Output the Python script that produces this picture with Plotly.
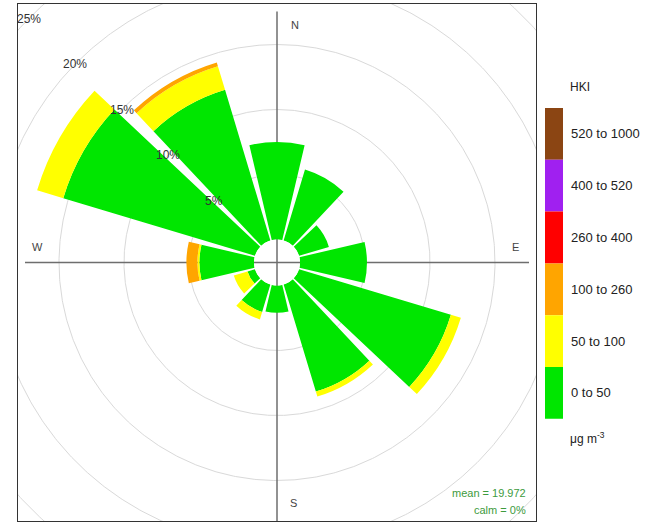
import numpy as np
import plotly.graph_objects as go

# ---------------- data ----------------
directions = [0, 30, 60, 90, 120, 150, 180, 210, 240, 270, 300, 330]
bin_labels = ["0 to 50", "50 to 100", "100 to 260", "260 to 400", "400 to 520", "520 to 1000"]
bin_colors = ["#00e600", "#ffff00", "#ffa500", "#ff0000", "#a020f0", "#8b4513"]

freq_0_50 = [7.5, 5.7, 2.4, 5.15, 12.2, 8.6, 2.1, 2.2, 0.6, 4.2, 15.4, 12.1]
freq_50_100 = [0, 0, 0, 0, 0.8, 0.4, 0, 0.6, 1.1, 0.15, 2.1, 1.9]
freq_100_260 = [0, 0, 0, 0, 0, 0, 0, 0, 0, 0.85, 0, 0.3]
freq_260_400 = [0, 0, 0, 0, 0, 0, 0, 0, 0, 0, 0, 0]
freq_400_520 = [0, 0, 0, 0, 0, 0, 0, 0, 0, 0, 0, 0]
freq_520_1000 = [0, 0, 0, 0, 0, 0, 0, 0, 0, 0, 0, 0]
series = [freq_0_50, freq_50_100, freq_100_260, freq_260_400, freq_400_520, freq_520_1000]

grid_levels = [5, 10, 15, 20, 25]
compass_labels = ["N", "E", "S", "W"]
pollutant = "HKI"
unit_label = "μg m<sup>-3</sup>"
mean_value = 19.972
calm_pct = 0

# ---------------- geometry ----------------
W, H = 653, 523
ML, MR, MT, MB = 18, 117, 4, 2
PW, PH = W - ML - MR, H - MT - MB
PX_PER_PCT = 13.0
HOLE_PX = 23.0
radius_px = min(PW, PH) / 2
hole_frac = HOLE_PX / radius_px
rmax = (radius_px - HOLE_PX) / PX_PER_PCT
off = HOLE_PX / PX_PER_PCT          # hole in data units
xr = PW / 2 / PX_PER_PCT
yr = PH / 2 / PX_PER_PCT
FONT = "Liberation Sans, Arial, sans-serif"


def px2paper(px, py):
    return (px - ML) / PW, (H - MB - py) / PH


fig = go.Figure()

# grid circles (cartesian, clipped to panel)
gx, gy = [], []
t = np.linspace(0, 2 * np.pi, 721)
for lv in grid_levels:
    gx += list((off + lv) * np.sin(t)) + [None]
    gy += list((off + lv) * np.cos(t)) + [None]
fig.add_trace(go.Scatter(x=gx, y=gy, mode="lines", line=dict(color="#d9d9d9", width=1),
                         hoverinfo="skip", showlegend=False))

# cross axes
L = 252 / PX_PER_PCT
fig.add_trace(go.Scatter(x=[-L, L, None, 0, 0], y=[0, 0, None, 251 / PX_PER_PCT, -yr - 1],
                         mode="lines", line=dict(color="#6e6e6e", width=1.5),
                         hoverinfo="skip", showlegend=False))

# stacked bars (polar)
for lab, col, vals in zip(bin_labels, bin_colors, series):
    fig.add_trace(go.Barpolar(r=vals, theta=directions, width=26.5, name=lab,
                              marker=dict(color=col, line=dict(width=0)),
                              showlegend=False))

fig.update_layout(
    width=W, height=H,
    margin=dict(l=ML, r=MR, t=MT, b=MB, pad=0),
    paper_bgcolor="white", plot_bgcolor="white",
    xaxis=dict(range=[-xr, xr], showgrid=False, zeroline=False, showticklabels=False,
               ticks="", showline=True, mirror=True, linecolor="#333", linewidth=1,
               domain=[0, 1], fixedrange=True),
    yaxis=dict(range=[-yr, yr], showgrid=False, zeroline=False, showticklabels=False,
               ticks="", showline=True, mirror=True, linecolor="#333", linewidth=1,
               domain=[0, 1], fixedrange=True),
    polar=dict(
        domain=dict(x=[0, 1], y=[0, 1]),
        bgcolor="rgba(0,0,0,0)",
        hole=hole_frac,
        barmode="stack",
        radialaxis=dict(range=[0, rmax], visible=False, showgrid=False),
        angularaxis=dict(rotation=90, direction="clockwise", visible=False,
                         showgrid=False, showline=False, showticklabels=False, ticks=""),
    ),
    showlegend=False,
)

ann = []
# percent labels along NW diagonal
ang = np.deg2rad(-45.5)
for lv in grid_levels:
    r = off + lv
    ann.append(dict(x=r * np.sin(ang), y=r * np.cos(ang), xref="x", yref="y",
                    text=f"{lv}%", showarrow=False,
                    font=dict(family=FONT, size=12, color="#333")))

# compass labels (pixel offsets from centre)
compass_off = {"N": (18, 237.5), "E": (238, 15.5), "S": (16, -240.5), "W": (-240, 15.5)}
for c in compass_labels:
    dx, dy = compass_off[c]
    ann.append(dict(x=dx / PX_PER_PCT, y=dy / PX_PER_PCT, xref="x", yref="y", text=c,
                    showarrow=False, font=dict(family=FONT, size=11, color="#444")))

# mean / calm
for txt, py in [(f"mean = {mean_value}", 493), (f"calm = {calm_pct}%", 510)]:
    px_, py_ = px2paper(528, py)
    ann.append(dict(x=px_, y=py_, xref="paper", yref="paper", text=txt, showarrow=False,
                    xanchor="right", yanchor="middle",
                    font=dict(family=FONT, size=11, color="#3d9b3d")))

# key
shapes = []
box_top, box_h = 108, 51.8
for i, (lab, col) in enumerate(zip(bin_labels[::-1], bin_colors[::-1])):
    y0 = box_top + i * box_h
    x0p, y0p = px2paper(545, y0)
    x1p, y1p = px2paper(563, y0 + box_h)
    shapes.append(dict(type="rect", xref="paper", yref="paper", x0=x0p, x1=x1p,
                       y0=y1p, y1=y0p, fillcolor=col, line=dict(width=0)))
    lx, ly = px2paper(569, y0 + box_h / 2)
    ann.append(dict(x=lx, y=ly, xref="paper", yref="paper", text=lab, showarrow=False,
                    xanchor="left", yanchor="middle",
                    font=dict(family=FONT, size=13, color="#222")))

hx, hy = px2paper(568, 87)
ann.append(dict(x=hx, y=hy, xref="paper", yref="paper", text=pollutant, showarrow=False,
                xanchor="left", yanchor="middle", font=dict(family=FONT, size=12, color="#222")))
ux, uy = px2paper(568, 438)
ann.append(dict(x=ux, y=uy, xref="paper", yref="paper", text=unit_label, showarrow=False,
                xanchor="left", yanchor="middle", font=dict(family=FONT, size=12, color="#222")))

fig.update_layout(annotations=ann, shapes=shapes)
fig.write_html("out.html", config={"displayModeBar": False},
               post_script="document.body.style.margin='0';document.body.style.padding='0';")
